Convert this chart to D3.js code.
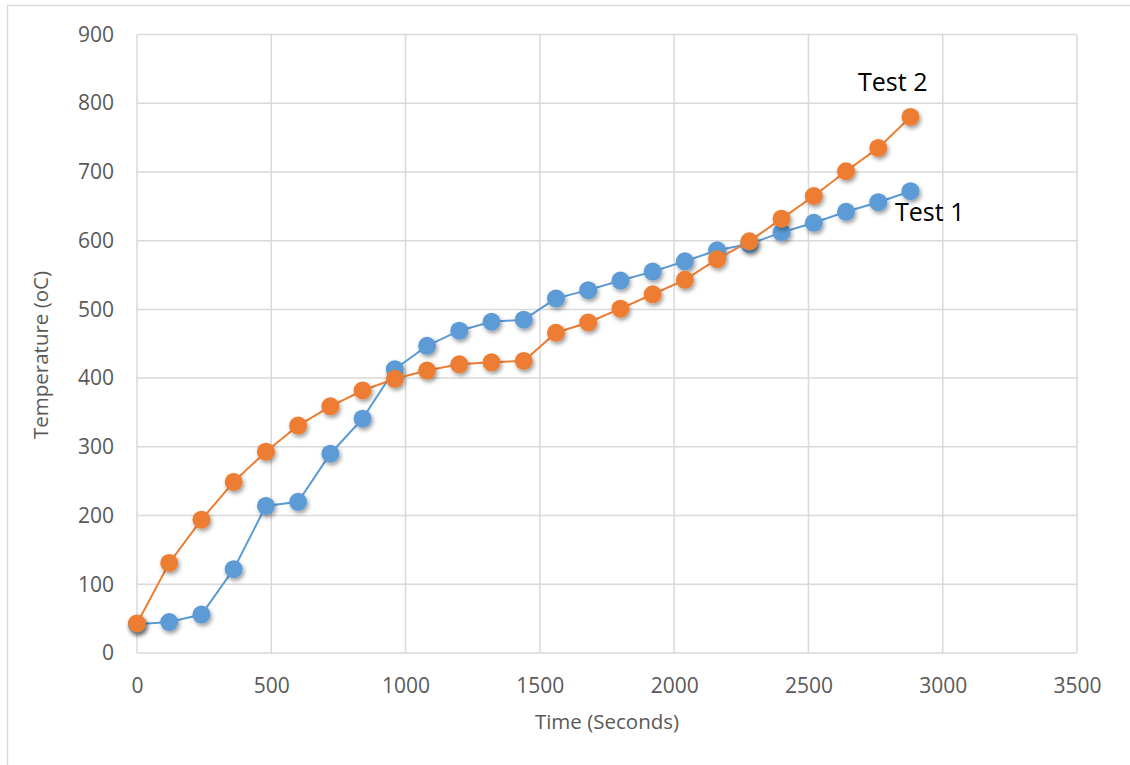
<!DOCTYPE html>
<html>
<head>
<meta charset="utf-8">
<script src="https://cdn.jsdelivr.net/npm/d3@7"></script>
<style>
  body { margin: 0; background: #fff; }
  text { font-family: "Open Sans", sans-serif; }
</style>
</head>
<body>
<svg></svg>
<script>

// time in seconds
var times = [0, 120, 240, 360, 480, 600, 720, 840, 960, 1080, 1200, 1320, 1440,
             1560, 1680, 1800, 1920, 2040, 2160, 2280, 2400, 2520, 2640, 2760, 2880]

var test1 = [42, 45, 56, 122, 214, 220, 290, 341, 413, 447, 469, 482, 485,
             516, 528, 542, 555, 570, 586, 595, 612, 626, 642, 656, 672]

var test2 = [43, 131, 194, 249, 293, 331, 359, 382, 399, 411, 420, 423, 425,
             466, 481, 501, 522, 543, 573, 599, 632, 665, 701, 735, 780]

var xTicks = [0, 500, 1000, 1500, 2000, 2500, 3000, 3500]
var yTicks = [0, 100, 200, 300, 400, 500, 600, 700, 800, 900]

var seriesNames = ["Test 1", "Test 2"]
var seriesColors = ["#5b9bd5", "#ed7d31"]


var drawChart = function()
{
  var width = 1130;
  var height = 765;

  var plot = {left: 137, right: 1077, top: 34.5, bottom: 653}

  var svg = d3.select("svg")
    .attr("width", width)
    .attr("height", height)

  // outer frame (only left and top show in the picture)
  svg.append("path")
    .attr("d", "M7.5,765V5.5H1130")
    .attr("fill", "none")
    .attr("stroke", "#d9d9d9")
    .attr("stroke-width", 1.5)

  var defs = svg.append("defs")
  var shadow = defs.append("filter")
    .attr("id", "shadow")
    .attr("x", "-50%").attr("y", "-50%")
    .attr("width", "200%").attr("height", "200%")
  shadow.append("feDropShadow")
    .attr("dx", 1.5)
    .attr("dy", 2.5)
    .attr("stdDeviation", 2)
    .attr("flood-color", "#000")
    .attr("flood-opacity", 0.4)

  var xScale = d3.scaleLinear()
                .domain([0, 3500])
                .range([plot.left, plot.right])

  var yScale = d3.scaleLinear()
                .domain([0, 900])
                .range([plot.bottom, plot.top])

  // grid
  var grid = svg.append("g").attr("class", "grid")

  grid.selectAll(".hline")
    .data(yTicks)
    .enter()
    .append("line")
    .attr("x1", plot.left)
    .attr("x2", plot.right)
    .attr("y1", function(d){return yScale(d);})
    .attr("y2", function(d){return yScale(d);})
    .attr("stroke", "#d9d9d9")
    .attr("stroke-width", 1.5)

  grid.selectAll(".vline")
    .data(xTicks)
    .enter()
    .append("line")
    .attr("y1", plot.top)
    .attr("y2", plot.bottom)
    .attr("x1", function(d){return xScale(d);})
    .attr("x2", function(d){return xScale(d);})
    .attr("stroke", "#d9d9d9")
    .attr("stroke-width", 1.5)

  // axes, labels only
  var xAxis = d3.axisBottom(xScale)
                .tickValues(xTicks)
                .tickFormat(d3.format("d"))
                .tickSize(0)
                .tickPadding(25)

  var yAxis = d3.axisLeft(yScale)
                .tickValues(yTicks)
                .tickFormat(d3.format("d"))
                .tickSize(0)
                .tickPadding(23)

  var gx = svg.append("g")
    .attr("transform", "translate(0," + plot.bottom + ")")
    .call(xAxis)

  var gy = svg.append("g")
    .attr("transform", "translate(" + plot.left + ",0)")
    .call(yAxis)

  gx.select(".domain").remove()
  gy.select(".domain").remove()

  svg.selectAll(".tick text")
    .attr("fill", "#595959")
    .style("font-size", "21px")
    .style("font-family", "'Open Sans', sans-serif")

  // axis titles
  svg.append("text")
    .attr("x", 607)
    .attr("y", 729)
    .attr("text-anchor", "middle")
    .attr("fill", "#595959")
    .style("font-size", "20.5px")
    .text("Time (Seconds)")

  svg.append("text")
    .attr("transform", "translate(48,355) rotate(-90)")
    .attr("text-anchor", "middle")
    .attr("fill", "#595959")
    .style("font-size", "20.5px")
    .text("Temperature (oC)")

  // series
  var drawLine = d3.line()
          .x(function(d){return xScale(d.t);})
          .y(function(d){return yScale(d.v);})

  var allSeries = [test1, test2]

  allSeries.forEach(function(values, k)
  {
    var pts = values.map(function(v, i){ return {t: times[i], v: v}; })

    var g = svg.append("g").attr("class", "series")

    g.append("path")
      .datum(pts)
      .attr("d", drawLine)
      .attr("fill", "none")
      .attr("stroke", seriesColors[k])
      .attr("stroke-width", 2)

    g.selectAll("circle")
      .data(pts)
      .enter()
      .append("circle")
      .attr("cx", function(d){return xScale(d.t);})
      .attr("cy", function(d){return yScale(d.v);})
      .attr("r", 9)
      .attr("fill", seriesColors[k])
      .attr("filter", "url(#shadow)")
  })

  // series labels next to the last points
  var last = times.length - 1

  svg.append("text")
    .attr("x", xScale(times[last]) + 54)
    .attr("y", yScale(test1[last]) + 30)
    .attr("text-anchor", "end")
    .attr("fill", "#000")
    .style("font-size", "25px")
    .text(seriesNames[0])

  svg.append("text")
    .attr("x", xScale(times[last]) + 17)
    .attr("y", yScale(test2[last]) - 26)
    .attr("text-anchor", "end")
    .attr("fill", "#000")
    .style("font-size", "25px")
    .text(seriesNames[1])
}

drawChart();

</script>
</body>
</html>
